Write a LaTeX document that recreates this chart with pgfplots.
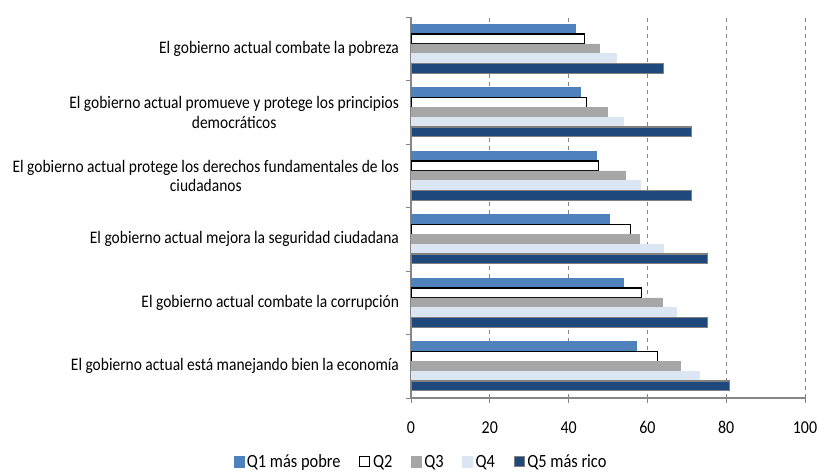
\documentclass[border=0pt]{standalone}
\usepackage{fontspec}
\setmainfont{Carlito}[FakeStretch=0.88]
\usepackage{pgfplots}
\pgfplotsset{compat=1.18}
\definecolor{qone}{HTML}{4F81BD}
\definecolor{qthree}{HTML}{A6A6A6}
\definecolor{qfour}{HTML}{DCE6F2}
\definecolor{qfive}{HTML}{1F497D}
\definecolor{axgray}{HTML}{868686}
\begin{document}
\begin{tikzpicture}
\useasboundingbox (0,0) rectangle (615pt,355.5pt);
\begin{axis}[
  at={(308.25pt,57pt)}, anchor=south west,
  scale only axis, width=295.5pt, height=285.75pt,
  xbar,
  xmin=0, xmax=100, ymin=-0.5, ymax=5.5,
  xtick={0,20,...,100},
  ytick={0,...,5},
  yticklabels={
    {El gobierno actual está manejando bien la economía},
    {El gobierno actual combate la corrupción},
    {El gobierno actual mejora la seguridad ciudadana},
    {El gobierno actual protege los derechos fundamentales de los\\ciudadanos},
    {El gobierno actual promueve y protege los principios\\democráticos},
    {El gobierno actual combate la pobreza}},
  minor ytick={-0.5,0.5,...,5.5},
  major y tick style={draw=none},
  minor tick length=4pt,
  major tick length=4pt,
  tick align=outside,
  tick style={axgray, line width=0.6pt},
  axis x line*=bottom, axis y line*=left,
  axis line style={axgray, line width=0.8pt},
  xmajorgrids, grid style={dashed, axgray, line width=0.5pt},
  /pgf/number format/assume math mode=true,
  xticklabel style={font=\fontsize{13.6}{15}\selectfont, yshift=-10pt},
  yticklabel style={font=\fontsize{13.2}{14.6}\selectfont, align=center, xshift=-1.5pt},
  bar width=0.155,
  legend style={at={(0.006,-0.168)}, anchor=center, draw=none, legend columns=-1,
    font=\fontsize{14}{15}\selectfont, inner sep=1pt},
  legend image code/.code={\path (-12pt,0pt) (0pt,0pt); \draw[#1] (0pt,-3.6pt) rectangle (7.5pt,4.2pt);},
]
\addplot[fill=qone, draw=qone, bar shift=0.31] coordinates {(57.2,0) (53.8,1) (50.2,2) (47.0,3) (43.0,4) (41.7,5)};
\addplot[fill=white, draw=black, line width=0.8pt, bar shift=0.155] coordinates {(62.6,0) (58.6,1) (55.6,2) (47.5,3) (44.5,4) (44.1,5)};
\addplot[fill=qthree, draw=qthree, bar shift=0] coordinates {(68.3,0) (63.7,1) (58.0,2) (54.5,3) (49.9,4) (47.7,5)};
\addplot[fill=qfour, draw=qfour, bar shift=-0.155] coordinates {(73.2,0) (67.3,1) (64.0,2) (58.1,3) (53.9,4) (52.2,5)};
\addplot[fill=qfive, draw=gray, line width=0.8pt, bar shift=-0.31] coordinates {(80.9,0) (75.3,1) (75.3,2) (71.1,3) (71.1,4) (64.2,5)};
\legend{Q1 más pobre, Q2, Q3, Q4, Q5 más rico}
\end{axis}
\end{tikzpicture}
\end{document}
